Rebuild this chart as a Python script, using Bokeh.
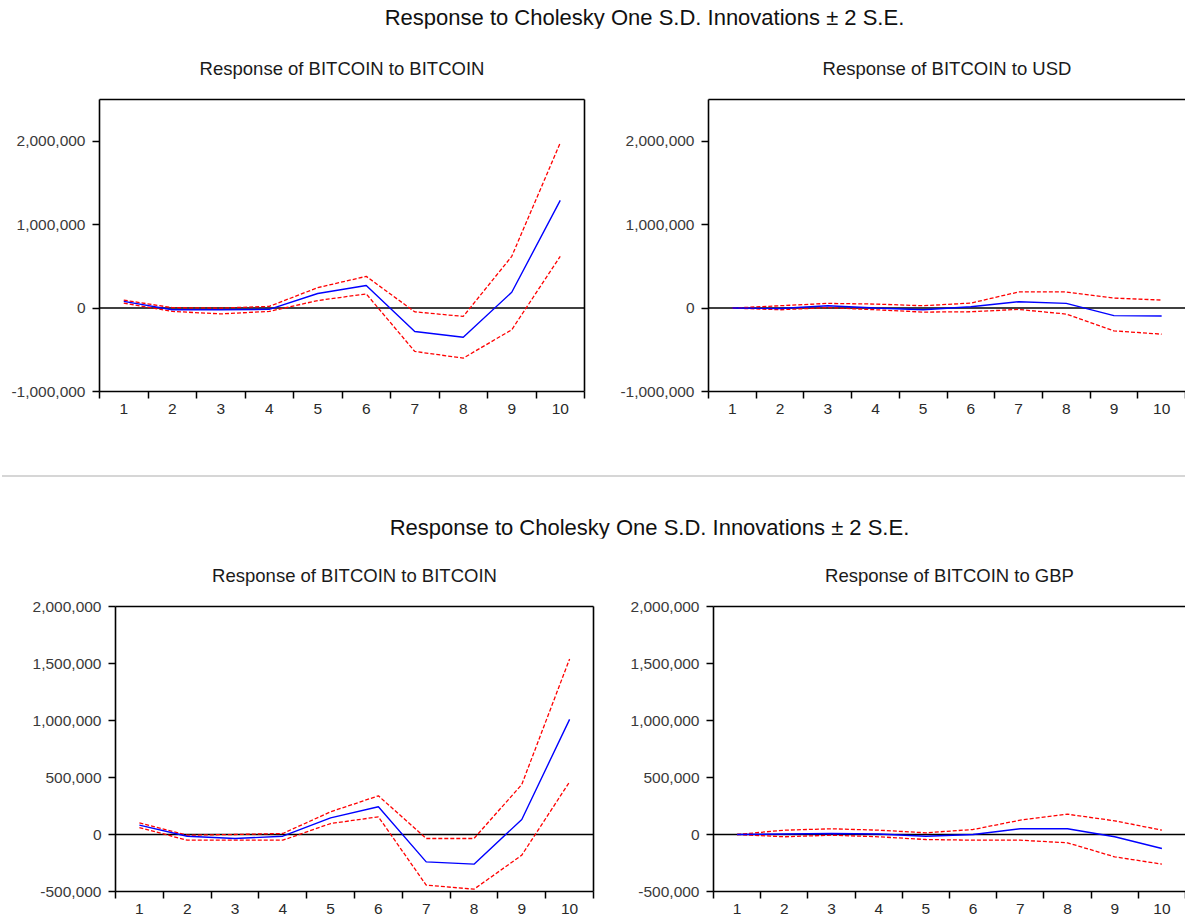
from bokeh.plotting import figure
from bokeh.layouts import column, row
from bokeh.models import (Div, FixedTicker, NumeralTickFormatter, Span,
                          LinearAxis, Range1d)
from bokeh.embed import file_html
from bokeh.resources import INLINE

# ---------------- data ----------------
periods = [1, 2, 3, 4, 5, 6, 7, 8, 9, 10]
period_labels = ["1", "2", "3", "4", "5", "6", "7", "8", "9", "10"]

main_title = "Response to Cholesky One S.D. Innovations \u00b1 2 S.E."

# first estimation (BITCOIN, USD)
btc_btc_1 = [80e3, -20e3, -20e3, -15e3, 175e3, 270e3, -280e3, -350e3, 190e3, 1290e3]
btc_btc_1_up = [95e3, 5e3, 0, 20e3, 245e3, 380e3, -45e3, -100e3, 620e3, 1980e3]
btc_btc_1_lo = [60e3, -40e3, -70e3, -40e3, 90e3, 170e3, -520e3, -600e3, -260e3, 620e3]

btc_usd = [0, -5e3, 28e3, 0, -20e3, 16e3, 76e3, 56e3, -90e3, -95e3]
btc_usd_up = [0, 28e3, 56e3, 48e3, 28e3, 60e3, 193e3, 193e3, 120e3, 96e3]
btc_usd_lo = [0, -20e3, 5e3, -20e3, -48e3, -44e3, -16e3, -72e3, -273e3, -313e3]

# second estimation (BITCOIN, GBP)
btc_btc_2 = [82e3, -15e3, -35e3, -15e3, 146e3, 243e3, -240e3, -260e3, 132e3, 1010e3]
btc_btc_2_up = [102e3, -6e3, 0, 9e3, 199e3, 339e3, -35e3, -35e3, 439e3, 1540e3]
btc_btc_2_lo = [61e3, -50e3, -50e3, -50e3, 96e3, 155e3, -444e3, -480e3, -181e3, 462e3]

btc_gbp = [0, 5e3, 9e3, 5e3, -15e3, 0, 50e3, 50e3, -20e3, -123e3]
btc_gbp_up = [0, 38e3, 50e3, 38e3, 15e3, 44e3, 126e3, 178e3, 120e3, 38e3]
btc_gbp_lo = [0, -20e3, -6e3, -20e3, -44e3, -50e3, -50e3, -73e3, -196e3, -260e3]

yticks_top = [-1e6, 0, 1e6, 2e6]
yticks_bottom = [-5e5, 0, 5e5, 1e6, 1.5e6, 2e6]

FONT = "Liberation Sans"


def border_axis():
    return LinearAxis(ticker=FixedTicker(ticks=[]), major_tick_out=0,
                      major_tick_in=0, minor_tick_out=0, minor_tick_in=0,
                      major_label_text_font_size="0px",
                      major_label_standoff=0,
                      axis_line_color="black", axis_line_width=1.6)


def make_fig(title, mid, up, lo, yr, yticks, width, height,
             mbl, mbr, mbt, mbb, closed_right):
    p = figure(width=width, height=height,
               x_range=Range1d(0.5, 10.5), y_range=Range1d(*yr),
               output_backend="svg", toolbar_location=None, tools="",
               min_border_left=mbl, min_border_right=mbr,
               min_border_top=mbt, min_border_bottom=mbb)
    p.grid.visible = False
    p.outline_line_color = None
    p.background_fill_color = "white"
    p.border_fill_color = "white"

    # subtitle
    p.title.text = title
    p.title.align = "center"
    p.title.text_font = FONT
    p.title.text_font_size = "18.5px"
    p.title.text_font_style = "normal"
    p.title.text_color = "#1a1a1a"
    p.title.standoff = 42

    # x axis: labels at periods, tick marks between them
    xa = p.xaxis[0]
    xa.ticker = FixedTicker(ticks=periods,
                            minor_ticks=[i + 0.5 for i in range(0, 11)])
    xa.major_label_overrides = {p_: l for p_, l in zip(periods, period_labels)}
    xa.major_tick_out = 0
    xa.major_tick_in = 0
    xa.minor_tick_out = 7
    xa.minor_tick_in = 0
    xa.minor_tick_line_color = "black"
    xa.minor_tick_line_width = 1.5
    xa.axis_line_color = "black"
    xa.axis_line_width = 1.6
    xa.major_label_standoff = 5
    xa.major_label_text_font = FONT
    xa.major_label_text_font_size = "15.5px"
    xa.major_label_text_color = "#2a2a2a"

    ya = p.yaxis[0]
    ya.ticker = FixedTicker(ticks=yticks)
    ya.formatter = NumeralTickFormatter(format="0,0")
    ya.major_tick_out = 7
    ya.major_tick_in = 0
    ya.minor_tick_out = 0
    ya.minor_tick_in = 0
    ya.major_tick_line_width = 1.5
    ya.axis_line_color = "black"
    ya.axis_line_width = 1.6
    ya.major_label_standoff = 7
    ya.major_label_text_font = FONT
    ya.major_label_text_font_size = "15.5px"
    ya.major_label_text_color = "#3a3a3a"

    # frame border built from axes (right side open for the cut-off panels)
    p.add_layout(border_axis(), "above")
    if closed_right:
        p.add_layout(border_axis(), "right")

    p.add_layout(Span(location=0, dimension="width", line_color="black",
                      line_width=1.4, level="underlay"))

    p.line(periods, up, line_color="#ff0000", line_width=1.3, line_dash="4 2")
    p.line(periods, lo, line_color="#ff0000", line_width=1.3, line_dash="4 2")
    p.line(periods, mid, line_color="#0000ff", line_width=1.4)
    return p


TOP_H = 402
BOT_H = 378

f_tl = make_fig("Response of BITCOIN to BITCOIN", btc_btc_1, btc_btc_1_up,
                btc_btc_1_lo, (-1e6, 2.5e6), yticks_top, 600, TOP_H,
                99, 16, 71, 39, True)
f_tr = make_fig("Response of BITCOIN to USD", btc_usd, btc_usd_up,
                btc_usd_lo, (-1e6, 2.5e6), yticks_top, 585, TOP_H,
                108, 0, 71, 39, False)
f_bl = make_fig("Response of BITCOIN to BITCOIN", btc_btc_2, btc_btc_2_up,
                btc_btc_2_lo, (-5e5, 2e6), yticks_bottom, 605, BOT_H,
                115, 12, 68, 24, True)
f_br = make_fig("Response of BITCOIN to GBP", btc_gbp, btc_gbp_up,
                btc_gbp_lo, (-5e5, 2e6), yticks_bottom, 580, BOT_H,
                108, 0, 68, 24, False)

title_style = ("font-family:'Liberation Sans';font-size:22px;line-height:20px;"
               "color:#111;text-align:center;width:1185px;white-space:nowrap;")

t1 = Div(text=f'<div style="{title_style}position:relative;left:52px;margin-top:8px;">{main_title}</div>',
         width=1185, height=28, margin=(0, 0, 0, 0))
sep = Div(text='<div style="margin-top:45px;margin-left:2px;width:1183px;'
               'border-top:2px solid #d6d6d6;"></div>',
          width=1185, height=48, margin=(0, 0, 0, 0))
t2 = Div(text=f'<div style="{title_style}position:relative;left:57px;margin-top:40px;">{main_title}</div>',
         width=1185, height=60, margin=(0, 0, 0, 0))

layout = column(t1,
                row(f_tl, f_tr, spacing=0),
                sep, t2,
                row(f_bl, f_br, spacing=0),
                spacing=0)

open("out.html", "w").write(file_html(layout, INLINE))
